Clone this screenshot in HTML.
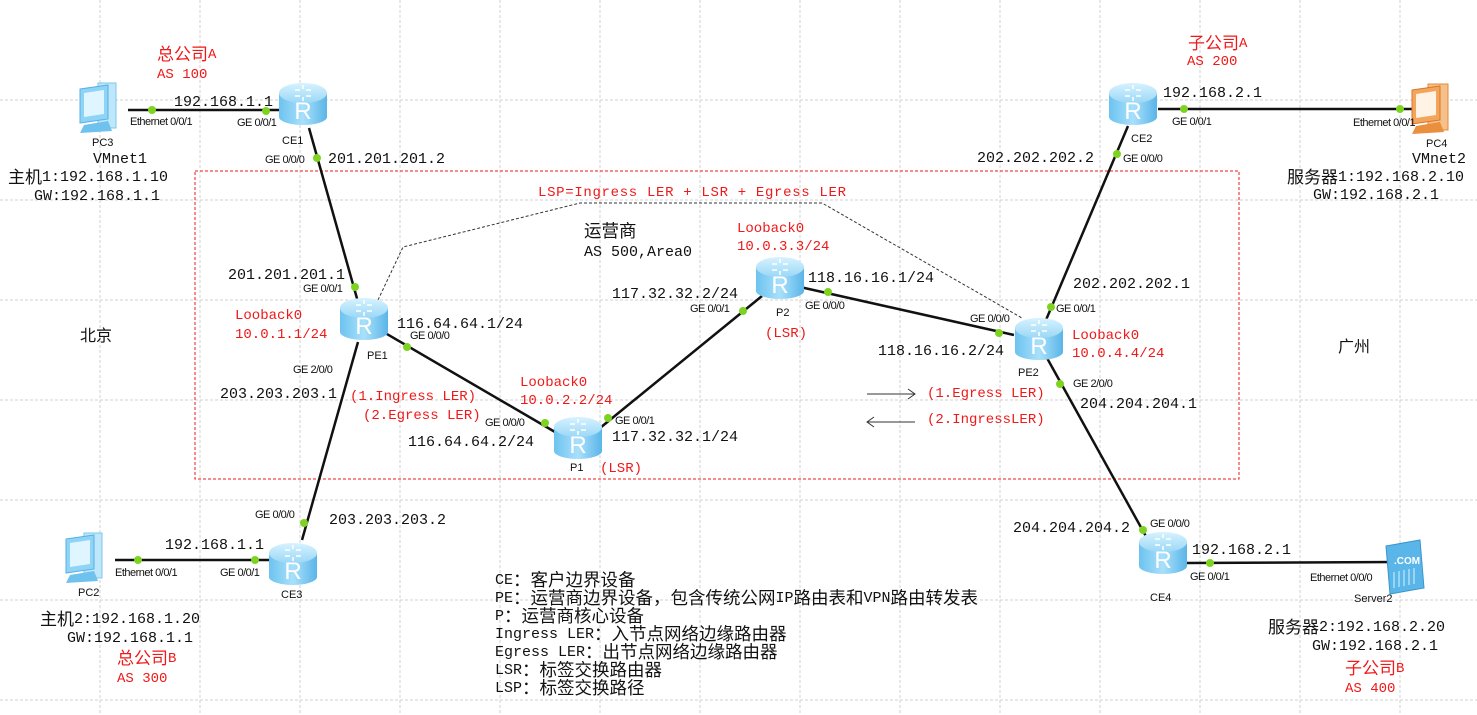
<!DOCTYPE html>
<html><head><meta charset="utf-8"><style>
html,body{margin:0;padding:0;background:#fff;}
svg{display:block;}
.m{font-family:"Liberation Mono","Noto Sans CJK SC",monospace;font-size:15px;fill:#111;}
.r{font-family:"Liberation Mono","Noto Sans CJK SC",monospace;font-size:14px;fill:#f01818;}
.s{font-family:"Liberation Sans",sans-serif;font-size:11px;fill:#111;letter-spacing:-0.5px;}
.n{font-family:"Liberation Sans",sans-serif;font-size:11px;fill:#111;}
.c{font-family:"Liberation Sans","Noto Sans CJK SC",sans-serif;font-size:16px;fill:#111;}
.l{font-family:"Liberation Mono","Noto Sans CJK SC",monospace;font-size:15px;fill:#111;}
.k{font-family:"Noto Sans CJK SC",sans-serif;font-size:17px;baseline-shift:-2px;}
.k2{font-family:"Noto Sans CJK SC",sans-serif;font-size:17.5px;baseline-shift:-2px;}
</style></head><body>
<svg width="1477" height="715" viewBox="0 0 1477 715" xmlns="http://www.w3.org/2000/svg">
<defs>
<linearGradient id="rb" x1="0" x2="1"><stop offset="0" stop-color="#6cc3f0"/><stop offset="0.5" stop-color="#a9e0fb"/><stop offset="1" stop-color="#5ab5e8"/></linearGradient>
<linearGradient id="rt" x1="0" x2="0" y1="0" y2="1"><stop offset="0" stop-color="#d6f2ff"/><stop offset="1" stop-color="#9bd8f6"/></linearGradient>
<g id="rt1">
<rect x="-24" y="-10" width="48" height="24" fill="url(#rb)"/>
<ellipse cx="0" cy="14" rx="24" ry="8" fill="url(#rb)"/>
<ellipse cx="0" cy="-10" rx="24" ry="10" fill="url(#rt)"/>
<path d="M-8,-13 l5,0 M3,-13 l5,0 M-8,-7 l5,0 M3,-7 l5,0 M0,-18 l0,4 M0,-6 l0,4" stroke="#fff" stroke-width="1.5"/>
<text x="0" y="16" text-anchor="middle" font-family="Liberation Sans,sans-serif" font-size="24" fill="#fff">R</text>
</g>
<g id="pc">
<rect x="20" y="0" width="18" height="45" fill="#bfe7fb" stroke="#7cc7ee"/>
<polygon points="2,6 30,2 30,36 2,40" fill="#8fd3f7" stroke="#55b2e4"/>
<polygon points="6,10 26,7 26,31 6,34" fill="#dff5ff"/>
<polygon points="6,42 30,38 34,48 2,50" fill="#6fc1ee"/>
</g>
</defs>
<g stroke="#d0d0d0" stroke-width="1" stroke-dasharray="3,2">
<line x1="100" y1="0" x2="100" y2="715"/><line x1="200" y1="0" x2="200" y2="715"/><line x1="300" y1="0" x2="300" y2="715"/><line x1="400" y1="0" x2="400" y2="715"/><line x1="500" y1="0" x2="500" y2="715"/><line x1="600" y1="0" x2="600" y2="715"/><line x1="700" y1="0" x2="700" y2="715"/><line x1="800" y1="0" x2="800" y2="715"/><line x1="900" y1="0" x2="900" y2="715"/><line x1="1000" y1="0" x2="1000" y2="715"/><line x1="1100" y1="0" x2="1100" y2="715"/><line x1="1200" y1="0" x2="1200" y2="715"/><line x1="1300" y1="0" x2="1300" y2="715"/><line x1="1400" y1="0" x2="1400" y2="715"/>
<line x1="0" y1="100" x2="1477" y2="100"/><line x1="0" y1="200" x2="1477" y2="200"/><line x1="0" y1="300" x2="1477" y2="300"/><line x1="0" y1="400" x2="1477" y2="400"/><line x1="0" y1="500" x2="1477" y2="500"/><line x1="0" y1="600" x2="1477" y2="600"/><line x1="0" y1="700" x2="1477" y2="700"/>
</g>
<rect x="195" y="171" width="1044" height="308" fill="none" stroke="#f01818" stroke-dasharray="3,2"/>
<polyline points="378,300 403,247 580,203 822,203 1022,318" fill="none" stroke="#333" stroke-dasharray="3,2"/>
<g stroke="#111" stroke-width="2.5" fill="none">
<line x1="128" y1="110" x2="282" y2="110"/>
<line x1="309" y1="128" x2="358" y2="302"/>
<line x1="380" y1="330" x2="555" y2="432"/>
<line x1="600" y1="428" x2="762" y2="296"/>
<line x1="800" y1="287" x2="1014" y2="335"/>
<line x1="1046" y1="320" x2="1128" y2="126"/>
<line x1="1158" y1="109" x2="1418" y2="109"/>
<line x1="1047" y1="358" x2="1148" y2="540"/>
<line x1="1186" y1="563" x2="1400" y2="562"/>
<line x1="358" y1="342" x2="302" y2="540"/>
<line x1="115" y1="560" x2="270" y2="560"/>
</g>
<g fill="#7ed321">
<circle cx="152" cy="110" r="4"/><circle cx="266" cy="111" r="4"/><circle cx="317" cy="158" r="4"/><circle cx="355" cy="287" r="4"/>
<circle cx="407" cy="347" r="4"/><circle cx="545" cy="423" r="4"/><circle cx="608" cy="418" r="4"/><circle cx="743" cy="311" r="4"/>
<circle cx="828" cy="292" r="4"/><circle cx="999" cy="333" r="4"/><circle cx="1051" cy="307" r="4"/><circle cx="1117" cy="154" r="4"/>
<circle cx="1184" cy="109" r="4"/><circle cx="1400" cy="109" r="4"/><circle cx="1060" cy="384" r="4"/><circle cx="1143" cy="530" r="4"/>
<circle cx="1210" cy="563" r="4"/><circle cx="1396" cy="562" r="4"/><circle cx="304" cy="523" r="4"/><circle cx="138" cy="560" r="4"/><circle cx="255" cy="560" r="4"/>
</g>
<use href="#rt1" x="303" y="103"/>
<use href="#rt1" x="364" y="318"/>
<use href="#rt1" x="578" y="437"/>
<use href="#rt1" x="780" y="277"/>
<use href="#rt1" x="1039" y="338"/>
<use href="#rt1" x="1133" y="103"/>
<use href="#rt1" x="1163" y="552"/>
<use href="#rt1" x="293" y="563"/>
<use href="#pc" x="78" y="83"/>
<use href="#pc" x="64" y="533"/>
<g transform="translate(1410,84)">
<rect x="18" y="0" width="20" height="46" fill="#f6c08a" stroke="#e08a3c"/>
<polygon points="2,6 30,2 30,36 2,40" fill="#f4a55c" stroke="#d9772a"/>
<polygon points="6,10 26,7 26,31 6,34" fill="#fff3e6"/>
<polygon points="6,42 30,38 34,48 2,50" fill="#e98f3e"/>
</g>
<g transform="translate(1382,540)">
<polygon points="4,6 38,0 42,48 8,54" fill="#5ab5e8" stroke="#3a95cc"/>
<text x="12" y="24" font-family="Liberation Sans,sans-serif" font-size="10" font-weight="bold" fill="#fff">.COM</text>
<path d="M12,32 l0,16 M17,31 l0,16 M22,30 l0,16 M27,29 l0,16 M32,28 l0,16" stroke="#d6f2ff"/>
</g>
<g transform="translate(0,5)">
<text class="r" x="157" y="53"><tspan class="k">总公司</tspan>A</text><text class="r" x="157" y="73">AS 100</text>
<text class="m" x="174" y="101">192.168.1.1</text>
<text class="s" x="130" y="120">Ethernet 0/0/1</text><text class="s" x="237" y="121">GE 0/0/1</text>
<text class="n" x="92" y="141">PC3</text><text class="m" x="93" y="158">VMnet1</text>
<text class="m" x="8" y="176"><tspan class="k">主机</tspan>1:192.168.1.10</text><text class="m" x="34" y="195">GW:192.168.1.1</text>
<text class="n" x="282" y="139">CE1</text><text class="s" x="265" y="158">GE 0/0/0</text><text class="m" x="328" y="158">201.201.201.2</text>
<text class="m" x="228" y="274">201.201.201.1</text><text class="s" x="303" y="287">GE 0/0/1</text>
<text class="r" x="235" y="314">Looback0</text><text class="r" x="235" y="333">10.0.1.1/24</text>
<text class="n" x="367" y="354">PE1</text><text class="m" x="397" y="323">116.64.64.1/24</text><text class="s" x="410" y="334">GE 0/0/0</text>
<text class="s" x="293" y="368">GE 2/0/0</text><text class="m" x="220" y="393">203.203.203.1</text>
<text class="r" x="350" y="395">(1.Ingress LER)</text><text class="r" x="363" y="414">(2.Egress LER)</text>
<text class="s" x="485" y="421">GE 0/0/0</text><text class="m" x="408" y="441">116.64.64.2/24</text>
<text class="r" x="520" y="381">Looback0</text><text class="r" x="520" y="399">10.0.2.2/24</text>
<text class="s" x="615" y="419">GE 0/0/1</text><text class="m" x="612" y="436">117.32.32.1/24</text>
<text class="n" x="570" y="466">P1</text><text class="r" x="600" y="467">(LSR)</text>
<text class="m" x="584" y="230"><tspan class="k2">运营商</tspan></text><text class="m" x="584" y="251">AS 500,Area0</text>
<text class="r" x="737" y="227">Looback0</text><text class="r" x="737" y="245">10.0.3.3/24</text>
<text class="m" x="612" y="293">117.32.32.2/24</text><text class="s" x="690" y="307">GE 0/0/1</text>
<text class="n" x="776" y="311">P2</text><text class="r" x="765" y="332">(LSR)</text>
<text class="m" x="808" y="277">118.16.16.1/24</text><text class="s" x="805" y="304">GE 0/0/0</text>
<text class="r" x="538" y="191" textLength="308">LSP=Ingress LER + LSR + Egress LER</text>
<text class="m" x="977" y="157">202.202.202.2</text><text class="s" x="1123" y="157">GE 0/0/0</text>
<text class="n" x="1131" y="137">CE2</text><text class="m" x="1163" y="92">192.168.2.1</text>
<text class="s" x="1172" y="120">GE 0/0/1</text><text class="s" x="1353" y="121">Ethernet 0/0/1</text>
<text class="n" x="1426" y="142">PC4</text><text class="m" x="1412" y="158">VMnet2</text>
<text class="m" x="1287" y="176"><tspan class="k">服务器</tspan>1:192.168.2.10</text><text class="m" x="1313" y="194">GW:192.168.2.1</text>
<text class="r" x="1188" y="42"><tspan class="k">子公司</tspan>A</text><text class="r" x="1187" y="60">AS 200</text>
<text class="m" x="1073" y="283">202.202.202.1</text><text class="s" x="1056" y="307">GE 0/0/1</text>
<text class="s" x="970" y="317">GE 0/0/0</text>
<text class="r" x="1072" y="334">Looback0</text><text class="r" x="1072" y="352">10.0.4.4/24</text>
<text class="n" x="1018" y="371">PE2</text><text class="m" x="878" y="350">118.16.16.2/24</text>
<text class="s" x="1073" y="382">GE 2/0/0</text><text class="m" x="1080" y="403">204.204.204.1</text>
<text class="r" x="927" y="392">(1.Egress LER)</text><text class="r" x="927" y="418">(2.IngressLER)</text>
<text class="c" x="80" y="336">北京</text><text class="c" x="1338" y="347">广州</text>
<text class="m" x="329" y="519">203.203.203.2</text><text class="s" x="255" y="513">GE 0/0/0</text>
<text class="m" x="165" y="544">192.168.1.1</text>
<text class="s" x="115" y="571">Ethernet 0/0/1</text><text class="s" x="220" y="571">GE 0/0/1</text>
<text class="n" x="78" y="591">PC2</text><text class="n" x="281" y="593">CE3</text>
<text class="m" x="40" y="618"><tspan class="k">主机</tspan>2:192.168.1.20</text><text class="m" x="67" y="637">GW:192.168.1.1</text>
<text class="r" x="117" y="657"><tspan class="k">总公司</tspan>B</text><text class="r" x="117" y="677">AS 300</text>
<text class="m" x="1013" y="527">204.204.204.2</text><text class="s" x="1150" y="522">GE 0/0/0</text>
<text class="m" x="1192" y="549">192.168.2.1</text><text class="s" x="1190" y="575">GE 0/0/1</text>
<text class="s" x="1310" y="576">Ethernet 0/0/0</text>
<text class="n" x="1150" y="596">CE4</text><text class="n" x="1354" y="597">Server2</text>
<text class="m" x="1268" y="626"><tspan class="k">服务器</tspan>2:192.168.2.20</text><text class="m" x="1312" y="645">GW:192.168.2.1</text>
<text class="r" x="1345" y="667"><tspan class="k">子公司</tspan>B</text><text class="r" x="1345" y="687">AS 400</text>
<text class="l" x="495" y="579">CE<tspan class="k2">：客户边界设备</tspan></text>
<text class="l" x="495" y="597">PE<tspan class="k2">：运营商边界设备，包含传统公网</tspan>IP<tspan class="k2">路由表和</tspan>VPN<tspan class="k2">路由转发表</tspan></text>
<text class="l" x="495" y="615">P<tspan class="k2">：运营商核心设备</tspan></text>
<text class="l" x="495" y="633">Ingress LER<tspan class="k2">：入节点网络边缘路由器</tspan></text>
<text class="l" x="495" y="651">Egress LER<tspan class="k2">：出节点网络边缘路由器</tspan></text>
<text class="l" x="495" y="669">LSR<tspan class="k2">：标签交换路由器</tspan></text>
<text class="l" x="495" y="687">LSP<tspan class="k2">：标签交换路径</tspan></text>
</g>
<g stroke="#333" fill="none" stroke-width="1">
<line x1="867" y1="394" x2="915" y2="394"/><polyline points="908,389 915,394 908,399"/>
<line x1="867" y1="422" x2="915" y2="422"/><polyline points="874,417 867,422 874,427"/>
</g>
</svg>
</body></html>
